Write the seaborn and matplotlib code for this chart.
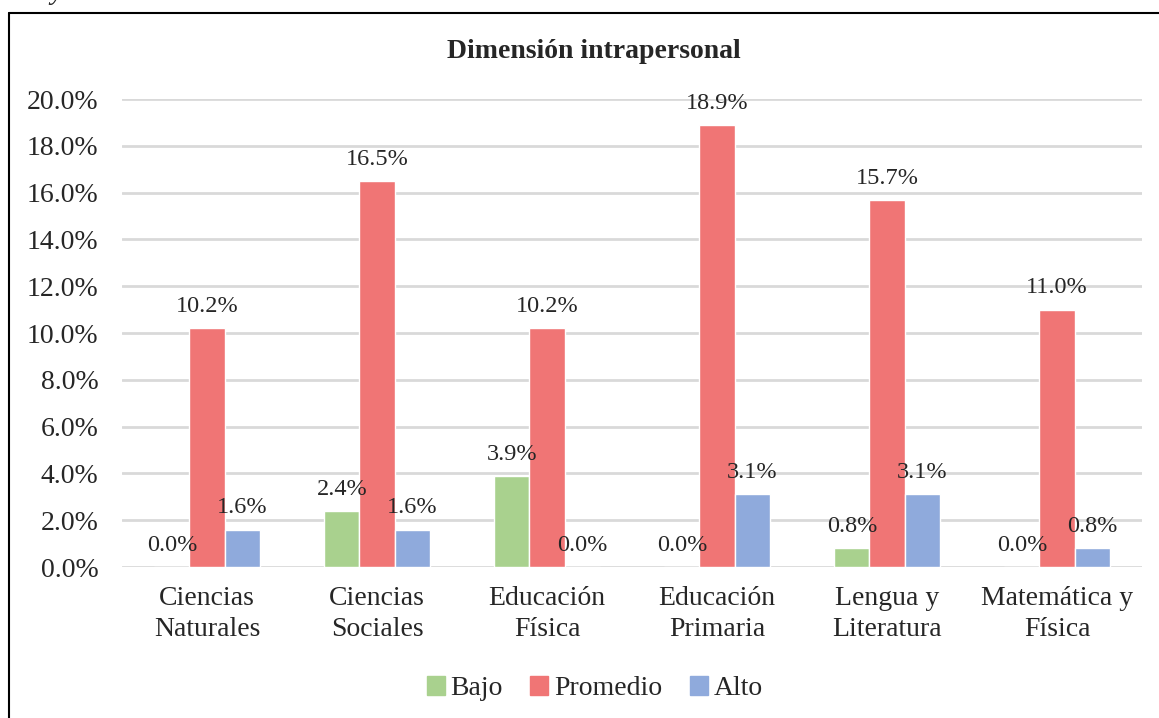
import pandas as pd
import matplotlib.pyplot as plt
import seaborn as sns
from matplotlib.lines import Line2D

# --- Data ---
carreras = ["Ciencias\nNaturales", "Ciencias\nSociales", "Educación\nFísica",
            "Educación\nPrimaria", "Lengua y\nLiteratura", "Matemática y\nFísica"]
niveles = ["Bajo", "Promedio", "Alto"]
bajo = [0.0, 2.4, 3.9, 0.0, 0.8, 0.0]
promedio = [10.2, 16.5, 10.2, 18.9, 15.7, 11.0]
alto = [1.6, 1.6, 0.0, 3.1, 3.1, 0.8]
y_ticks = [0, 2, 4, 6, 8, 10, 12, 14, 16, 18, 20]

df = pd.DataFrame({
    "carrera": carreras * 3,
    "nivel": ["Bajo"] * 6 + ["Promedio"] * 6 + ["Alto"] * 6,
    "valor": bajo + promedio + alto,
})

colores = {"Bajo": "#A9D18E", "Promedio": "#F07575", "Alto": "#8FAADC"}

sns.set_style("white")
plt.rcParams['font.family'] = ['Liberation Serif', 'DejaVu Serif']

fig = plt.figure(figsize=(11.59, 7.18), dpi=100)
ax = fig.add_axes([0.1053, 0.2103, 0.88, 0.6518])

sns.barplot(data=df, x="carrera", y="valor", hue="nivel", hue_order=niveles,
            palette=colores, width=0.62, saturation=1, ax=ax, legend=False)

for cont in ax.containers:
    ax.bar_label(cont, fmt="%.1f%%", padding=8, fontsize=17.5)

ax.set_ylim(0, 20)
ax.set_yticks(y_ticks)
ax.set_yticklabels([f"{v:.1f}%" for v in y_ticks], fontsize=20)
ax.tick_params(axis='x', labelsize=20, length=0, pad=14)
ax.tick_params(axis='y', length=0, pad=17)
for lbl in ax.get_xticklabels():
    lbl.set_linespacing(1.3)
ax.yaxis.grid(True, color="#D9D9D9", linewidth=2)
ax.set_axisbelow(True)
ax.set_xlabel("")
ax.set_ylabel("")
for s in ax.spines.values():
    s.set_visible(False)

fig.text(0.512, 0.928, "Dimensión intrapersonal", ha='center', va='center',
         fontsize=20, fontweight='bold')

handles = [plt.Rectangle((0, 0), 1, 1, color=colores[n]) for n in niveles]
fig.legend(handles, niveles, loc='center', bbox_to_anchor=(0.513, 0.041), ncol=3,
           frameon=False, fontsize=20, handlelength=0.65, handleheight=0.65,
           handletextpad=0.2, columnspacing=1.0)

# outer frame (left and top edges)
fig.add_artist(Line2D([9 / 1159, 9 / 1159], [0, 1 - 13 / 718], color='black', linewidth=1.5,
                      transform=fig.transFigure))
fig.add_artist(Line2D([9 / 1159, 1], [1 - 13 / 718, 1 - 13 / 718], color='black', linewidth=1.5,
                      transform=fig.transFigure))
# descender of a caption line cropped at the top edge
fig.text(50 / 1159, 1 + 1 / 718, "y", fontsize=20, style='italic', va='baseline')

fig.savefig("out.png", dpi=100)
